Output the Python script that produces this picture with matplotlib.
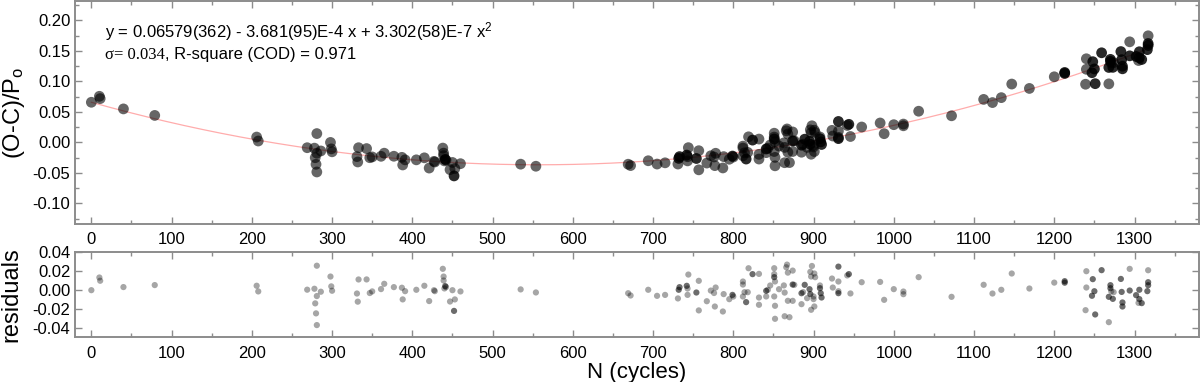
import numpy as np
import matplotlib
matplotlib.use("Agg")
import matplotlib.pyplot as plt
from matplotlib.ticker import MultipleLocator

plt.rcParams['font.family'] = ['Liberation Sans', 'DejaVu Sans']
plt.rcParams['mathtext.fontset'] = 'custom'
plt.rcParams['mathtext.rm'] = 'Liberation Sans'
plt.rcParams['mathtext.it'] = 'Liberation Sans:italic'
plt.rcParams['mathtext.default'] = 'regular'
plt.rcParams['axes.unicode_minus'] = False

# ---------------- data ----------------
cycles = [
    0, 10, 11, 40, 79, 206, 208, 269, 278, 281,
    281, 286, 279, 280, 281, 298, 299, 300, 331, 332,
    333, 343, 347, 350, 361, 365, 377, 387, 388, 391,
    405, 415, 421, 427, 428, 438, 439, 439, 441, 440,
    442, 450, 447, 453, 452, 460, 535, 554,
    669, 672, 694, 705, 715, 731, 733, 732, 742, 743,
    744, 743, 754, 757, 757, 767, 772, 778, 777, 776,
    787, 788, 795, 799, 800, 812, 812, 812, 814, 816,
    819, 818, 824, 832, 832, 832, 841, 841, 843, 846,
    851, 851, 851, 852, 851, 852, 852, 857, 863, 864,
    867, 868, 866, 874, 874, 876, 864, 870, 868, 874,
    885, 885, 887, 889, 892, 895, 896, 898, 896, 897,
    901, 902, 897, 901, 900, 900, 908, 908, 909, 910,
    923, 924, 931, 931, 931, 931, 944, 942, 946, 960,
    983, 988, 1000, 1012, 1012, 1031, 1072, 1112, 1123, 1134,
    1147, 1169, 1200, 1213, 1213, 1240, 1240, 1239, 1248, 1250,
    1247, 1251, 1259, 1268, 1270, 1270, 1271, 1274, 1268, 1273,
    1283, 1284, 1285, 1285, 1294, 1294, 1302, 1305, 1306, 1309,
    1306, 1317, 1317, 1317, 1316,
]

o_minus_c = [
    0.0658, 0.0756, 0.0718, 0.0549, 0.0442, 0.0087, 0.0022, -0.0088, -0.0095, 0.0144,
    -0.0178, -0.0141, -0.0252, -0.0360, -0.0486, -0.0001, -0.0107, -0.0155, -0.0234, -0.0322,
    -0.0088, -0.0102, -0.0252, -0.0239, -0.0229, -0.0178, -0.0228, -0.0246, -0.0371, -0.0287,
    -0.0287, -0.0254, -0.0422, -0.0312, -0.0323, -0.0094, -0.0177, -0.0219, -0.0280, -0.0304,
    -0.0291, -0.0330, -0.0448, -0.0430, -0.0551, -0.0350, -0.0358, -0.0392,
    -0.0359, -0.0381, -0.0302, -0.0356, -0.0336, -0.0356, -0.0234, -0.0263, -0.0209, -0.0236,
    -0.0087, -0.0304, -0.0265, -0.0137, -0.0451, -0.0340, -0.0220, -0.0179, -0.0382, -0.0240,
    -0.0420, -0.0234, -0.0277, -0.0225, -0.0241, -0.0062, -0.0094, -0.0221, -0.0172, -0.0274,
    0.0091, -0.0165, 0.0037, 0.0054, -0.0197, -0.0274, -0.0169, -0.0109, -0.0095, -0.0043,
    0.0150, 0.0087, 0.0055, 0.0011, -0.0150, -0.0247, -0.0385, -0.0061, -0.0009, -0.0083,
    0.0220, 0.0137, 0.0190, 0.0171, 0.0023, 0.0024, -0.0334, -0.0332, -0.0162, -0.0150,
    -0.0162, -0.0046, -0.0030, 0.0052, -0.0083, 0.0019, -0.0031, 0.0272, 0.0205, 0.0158,
    0.0199, 0.0162, -0.0195, -0.0151, -0.0075, -0.0047, 0.0088, 0.0059, 0.0008, -0.0035,
    0.0197, 0.0104, 0.0343, 0.0185, 0.0082, 0.0061, 0.0296, 0.0277, 0.0096, 0.0252,
    0.0318, 0.0142, 0.0290, 0.0300, 0.0272, 0.0511, 0.0436, 0.0705, 0.0653, 0.0734,
    0.0957, 0.0885, 0.1076, 0.1147, 0.1131, 0.1372, 0.1199, 0.0954, 0.1324, 0.1205,
    0.1143, 0.0963, 0.1470, 0.0960, 0.1362, 0.1330, 0.1302, 0.1307, 0.1229, 0.1231,
    0.1490, 0.1357, 0.1250, 0.1207, 0.1420, 0.1650, 0.1410, 0.1343, 0.1388, 0.1360,
    0.1487, 0.1749, 0.1622, 0.1590, 0.1522,
]

# number of coincident records at each point (drawn darker)
n_records = (
    [1] * 38 + [2] + [1] * 5 + [2] + [1] * 3 +
    [1, 1, 1, 1, 1, 1, 2, 2, 2, 1,
     1, 1, 2, 1, 1, 1, 1, 1, 1, 1,
     1, 1, 1, 2, 1, 1, 1, 1, 1, 2,
     1, 1, 2, 1, 1, 1, 1, 2, 1, 1,
     1, 1, 2, 1, 1, 1, 1, 1, 1, 1,
     1, 1, 1, 1, 2, 1, 1, 1, 1, 1,
     1, 2, 1, 2, 1, 2, 2, 1, 1, 1,
     1, 1, 1, 1, 1, 1, 1, 2, 2, 2,
     1, 1, 2, 1, 1, 2, 2, 1, 1, 1,
     1, 1, 1, 1, 1, 1, 1, 1, 1, 1,
     1, 1, 1, 2, 2, 1, 1, 1, 2, 2,
     2, 2, 2, 1, 2, 2, 1, 1, 2, 2,
     2, 2, 2, 2, 2, 1, 2, 1, 2, 2,
     2, 1, 2, 2, 2]
)

# quadratic ephemeris fit shown in the figure
fit_c0 = 0.06579
fit_c1 = -3.681e-4
fit_c2 = 3.302e-7
fit_range = (0, 1318)

x_ticks = [0, 100, 200, 300, 400, 500, 600, 700, 800, 900, 1000, 1100, 1200, 1300]
top_yticks = [-0.10, -0.05, 0.00, 0.05, 0.10, 0.15, 0.20]
res_yticks = [-0.04, -0.02, 0.00, 0.02, 0.04]

eq_text = "y = 0.06579(362) - 3.681(95)E-4 x + 3.302(58)E-7 x$^2$"
sigma_text = "\u03c3= 0.034"
rsq_text = ", R-square (COD) = 0.971"

# ---------------- plotting ----------------
N = np.array(cycles, dtype=float)
OC = np.array(o_minus_c)
nrec = np.array(n_records)


def fit(n):
    return fit_c0 + fit_c1 * n + fit_c2 * n ** 2


resid = OC - fit(N)

W, H = 1200, 382
fig = plt.figure(figsize=(W / 100, H / 100), dpi=100)
left, right = 75.3, 1198.7
ax1 = fig.add_axes([left / W, 1 - 224 / H, (right - left) / W, (224 - 1) / H])
ax2 = fig.add_axes([left / W, 1 - 337.3 / H, (right - left) / W, (337.3 - 252.5) / H])

spine_col = '#8c8c8c'


def colors_for(alpha):
    a = 1 - (1 - alpha) ** nrec
    c = np.zeros((len(nrec), 4))
    c[:, 3] = a
    return c


xf = np.linspace(fit_range[0], fit_range[1], 400)
ax1.plot(xf, fit(xf), color='#ff3030', lw=0.9, alpha=0.4, zorder=1)
ax1.scatter(N, OC, s=60, c=colors_for(0.6), edgecolors='none', zorder=2)

ax2.scatter(N, resid, s=20, c=colors_for(0.35), edgecolors='none', zorder=2)

for ax in (ax1, ax2):
    ax.set_xlim(-20, 1380)
    ax.set_xticks(x_ticks)
    ax.xaxis.set_minor_locator(MultipleLocator(50))
    for s in ax.spines.values():
        s.set_color(spine_col)
        s.set_linewidth(1.4)
    ax.tick_params(which='both', direction='in', top=True, right=True,
                   color=spine_col, labelsize=12, labelcolor='black')
    ax.tick_params(which='major', length=5, width=1)
    ax.tick_params(which='minor', length=3, width=1)
    ax.tick_params(axis='x', pad=6)

ax1.set_ylim(-0.134, 0.232)
ax1.set_yticks(top_yticks)
ax1.yaxis.set_minor_locator(MultipleLocator(0.025))
ax1.yaxis.set_major_formatter(matplotlib.ticker.FormatStrFormatter('%.2f'))
ax1.set_ylabel("(O-C)/P$_o$", fontsize=17)
ax1.yaxis.set_label_coords(-0.043, 0.5)

ax2.set_ylim(-0.05, 0.04)
ax2.set_yticks(res_yticks)
ax2.yaxis.set_major_formatter(matplotlib.ticker.FormatStrFormatter('%.2f'))
ax2.set_ylabel("residuals", fontsize=17)
ax2.yaxis.set_label_coords(-0.047, 0.5)
ax2.set_xlabel("N (cycles)", fontsize=16, labelpad=1)

ax1.text(0.0264, 0.861, eq_text, transform=ax1.transAxes, fontsize=12,
         va='center', ha='left')
t1 = ax1.text(0.0264, 0.758, sigma_text, transform=ax1.transAxes, fontsize=12,
              va='center', ha='left', family=['Liberation Serif', 'DejaVu Serif'])
ax1.annotate(rsq_text, xy=(1, 0.5), xycoords=t1, fontsize=12, va='center', ha='left')

fig.savefig("out.png", dpi=100)
